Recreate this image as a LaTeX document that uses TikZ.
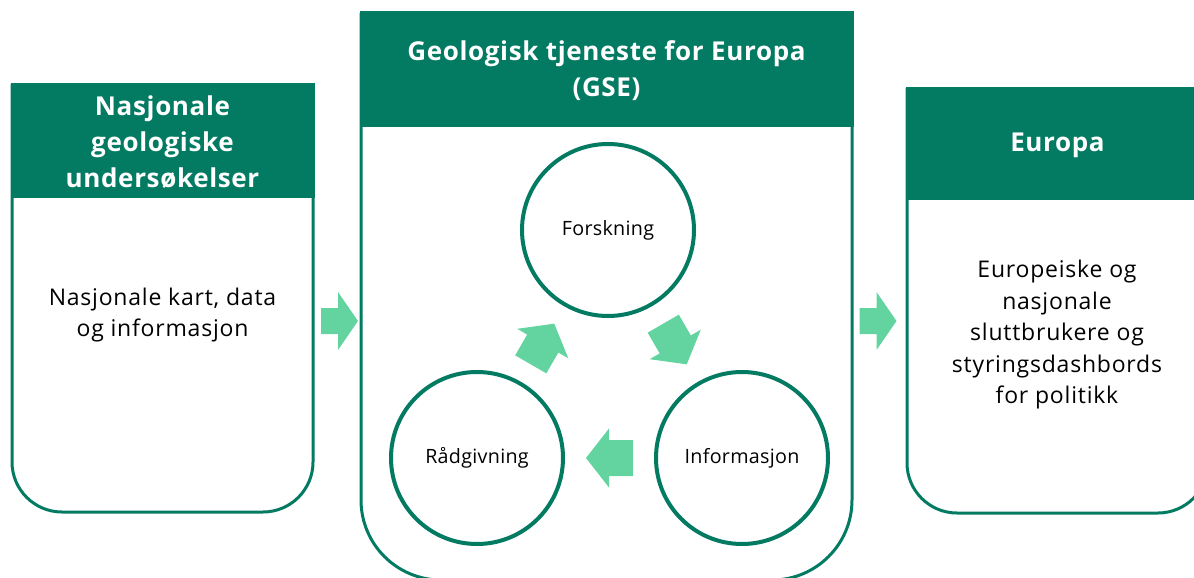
\documentclass[tikz,border=0pt]{standalone}
\usepackage{fontspec}
\setmainfont{Open Sans}
\newfontfamily\bodyfont{Open Sans}[LetterSpace=3.4]
\newfontfamily\headfont{Open Sans}[LetterSpace=2.5]
\newfontfamily\cycfont{Open Sans}[LetterSpace=1.5]
\usetikzlibrary{calc}
\definecolor{gdark}{RGB}{3,122,98}
\definecolor{glight}{RGB}{99,212,160}
\tikzset{
  boxline/.style={draw=gdark, line width=3pt},
  headfill/.style={fill=gdark},
  headtxt/.style={text=white, font=\headfont\bfseries\fontsize{26}{36}\selectfont, align=center, inner sep=0pt},
  bodytxt/.style={text=black, font=\bodyfont\fontsize{23}{31.5}\selectfont, align=center, inner sep=0pt},
  cyc/.style={circle, draw=gdark, line width=4pt, fill=white, minimum size=172pt, inner sep=0pt, font=\cycfont\fontsize{19.7}{22}\selectfont},
  bigarrow/.pic={\fill[glight] (-23.5,-18) -- (0.5,-18) -- (0.5,-29.5) -- (23.5,0) -- (0.5,29.5) -- (0.5,18) -- (-23.5,18) -- cycle;},
  smallarrow/.pic={\fill[glight] (-18.5,-13) -- (-1.5,-13) -- (-1.5,-29) -- (18.5,0) -- (-1.5,29) -- (-1.5,13) -- (-18.5,13) -- cycle;}
}
\begin{document}
\begin{tikzpicture}[x=1pt,y=-1pt]
\useasboundingbox (0,0) rectangle (1194,578);
% left box
\draw[boxline, rounded corners=50pt] (12,84) -- (12,512) -- (313,512) -- (313,84);
\fill[headfill] (10.5,82.5) rectangle (314.5,198);
% middle box
\draw[boxline, rounded corners=80pt] (361,13) -- (361,580) -- (852,580) -- (852,13);
\fill[headfill] (359.5,11.5) rectangle (853.5,127);
% right box
\draw[boxline, rounded corners=50pt] (907,88) -- (907,513) -- (1208,513) -- (1208,88);
\fill[headfill] (905.5,86.5) rectangle (1209.5,200);
% texts
\node[headtxt] (lhead) at (162.5,142) {Nasjonale\\geologiske\\undersøkelser};
\node[headtxt] (mhead) at (606.5,71) {Geologisk tjeneste for Europa\\(GSE)};
\node[headtxt] (rhead) at (1057.5,145) {Europa};
\node[bodytxt] (lbody) at (162.5,315) {Nasjonale kart, data\\og informasjon};
\node[bodytxt] (rbody) at (1057,335) {Europeiske og\\nasjonale\\sluttbrukere og\\styringsdashbords\\for politikk};
% circles
\node[cyc] (forsk) at (608,230) {Forskning};
\node[cyc] (raad) at (477,458) {Rådgivning};
\node[cyc] (info) at (742,458) {Informasjon};
% arrows
\pic[rotate=60] at ($(raad)!0.5!(forsk)$) {bigarrow};
\pic[rotate=-60] at ($(forsk)!0.5!(info)$) {bigarrow};
\pic[rotate=180] at ($(info)!0.5!(raad)$) {bigarrow};
\coordinate (a1) at (339.5,321);
\coordinate (a2) at (878,321);
\pic at (a1) {smallarrow};
\pic at (a2) {smallarrow};
\end{tikzpicture}
\end{document}
